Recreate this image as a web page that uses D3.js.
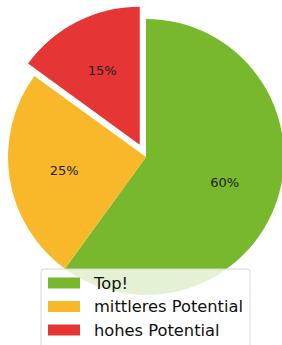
<!DOCTYPE html>
<html>
<head>
<meta charset="utf-8">
<script src="https://cdn.jsdelivr.net/npm/d3@7"></script>
<style>
  body { margin: 0; background: #fff; }
  svg { display: block; font-family: "DejaVu Sans", sans-serif; }
</style>
</head>
<body>
<div id="chart"></div>
<script>
// data
var labels = ["Top!", "mittleres Potential", "hohes Potential"];
var values = [60, 25, 15];
var explode = [0, 0, 0.1];
var colors = ["#78b82c", "#f9b829", "#e63535"];

var width = 282, height = 345;
var cx = 146, cy = 157, radius = 138;

var svg = d3.select("#chart")
  .append("svg")
    .attr("width", width)
    .attr("height", height);

var pie = d3.pie().sort(null).value(function(d) { return d; });
var arcs = pie(values);

var arc = d3.arc().innerRadius(0).outerRadius(radius);

var g = svg.append("g")
  .attr("transform", "translate(" + cx + "," + cy + ")");

// shift exploded wedges out along their middle angle
function offset(d, i) {
  var a = (d.startAngle + d.endAngle) / 2;
  var r = explode[i] * radius;
  return [Math.sin(a) * r, -Math.cos(a) * r];
}

var slices = g.selectAll(".slice")
  .data(arcs)
  .enter()
  .append("g")
    .attr("class", "slice")
    .attr("transform", function(d, i) {
      var o = offset(d, i);
      return "translate(" + o[0] + "," + o[1] + ")";
    });

slices.append("path")
  .attr("d", arc)
  .attr("fill", function(d, i) { return colors[i]; });

slices.append("text")
  .attr("x", function(d) { return Math.sin((d.startAngle + d.endAngle) / 2) * radius * 0.6; })
  .attr("y", function(d) { return -Math.cos((d.startAngle + d.endAngle) / 2) * radius * 0.6; })
  .attr("dy", "0.35em")
  .attr("text-anchor", "middle")
  .style("font-size", "13px")
  .attr("fill", "#222")
  .text(function(d) { return d.data + "%"; });

// legend
var legend = svg.append("g")
  .attr("transform", "translate(41,269)");

legend.append("rect")
  .attr("width", 209)
  .attr("height", 90)
  .attr("rx", 3)
  .attr("fill", "#fff")
  .attr("fill-opacity", 0.8)
  .attr("stroke", "#d6d6d6")
  .attr("stroke-width", 1);

var items = legend.selectAll(".item")
  .data(labels)
  .enter()
  .append("g")
    .attr("class", "item")
    .attr("transform", function(d, i) { return "translate(0," + (14 + i * 23.5) + ")"; });

items.append("rect")
  .attr("x", 7)
  .attr("y", -5.5)
  .attr("width", 32)
  .attr("height", 11)
  .attr("fill", function(d, i) { return colors[i]; });

items.append("text")
  .attr("x", 53)
  .attr("dy", "0.36em")
  .style("font-size", "16.3px")
  .attr("fill", "#111")
  .text(function(d) { return d; });
</script>
</body>
</html>
